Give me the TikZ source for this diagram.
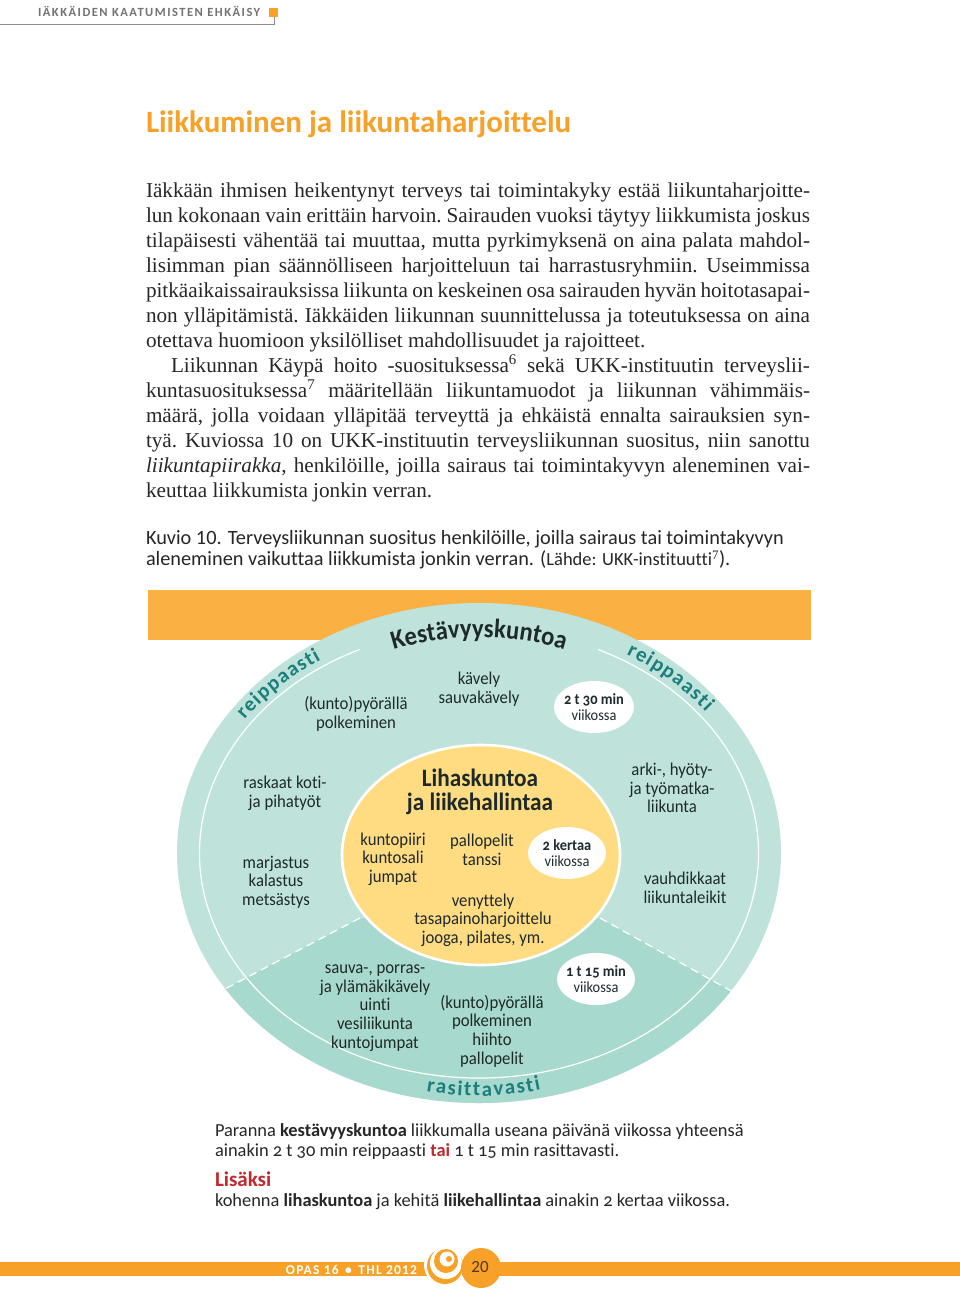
\documentclass[tikz,border=0pt]{standalone}
\usepackage{fontspec}
\usepackage{xcolor}
\usetikzlibrary{calc, decorations.text}
\setmainfont{Liberation Serif}
\newfontfamily\figfont[Numbers=OldStyle,Ligatures=NoCommon]{Carlito}
\newfontfamily\narrowfont[Numbers=OldStyle,Ligatures=NoCommon,FakeStretch=0.93]{Carlito}
\definecolor{bandorange}{HTML}{FBB042}
\definecolor{footorange}{HTML}{F7A128}
\definecolor{ringgreen}{HTML}{BFE3DB}
\definecolor{wedgegreen}{HTML}{A8D9CE}
\definecolor{coreyellow}{HTML}{FFDC82}
\definecolor{wordteal}{HTML}{1C7F7C}
\definecolor{inkdark}{HTML}{1E2A2A}
\definecolor{notered}{HTML}{C1272D}

\begin{document}
\begin{tikzpicture}[
    x=1pt, y=-1pt,
    every node/.style={inner sep=0pt, outer sep=0pt},
    activity/.style={align=center, text=inkdark, font=\narrowfont\fontsize{18}{18.6}\selectfont},
    dose/.style={align=center, text=inkdark, font=\narrowfont\fontsize{15.5}{16.5}\selectfont},
    dosebg/.style={fill=white},
    ringline/.style={draw=white, line width=1.2pt},
    sidenote/.style={anchor=base west, font=\figfont\fontsize{18.4}{20}\selectfont, text=black!85}
  ]
  \useasboundingbox (0,0) rectangle (960,1294);
  \fill[white] (0,0) rectangle (960,1294);

  % page head
  \node[anchor=base west, text=black!55, font=\figfont\bfseries\fontsize{12.5}{14}\selectfont\addfontfeatures{LetterSpace=12}] (running) at (38,16) {IÄKKÄIDEN KAATUMISTEN EHKÄISY};
  \draw[black!45, line width=1pt] (0,24) -- (274,24) -- (274,14);
  \fill[footorange] (269,8) rectangle (278,17);

  \node[anchor=base west, text=footorange, font=\figfont\bfseries\fontsize{31}{34}\selectfont] (title) at (146,132) {Liikkuminen ja liikuntaharjoittelu};

  \node[anchor=north west, text width=664pt, align=justify, text=black!85, font=\fontsize{21.2}{25}\selectfont\frenchspacing] (bodytext) at (146,182.5) {%
    Iäkkään ihmisen heikentynyt terveys tai toimintakyky estää liikuntaharjoitte-\linebreak
    lun kokonaan vain erittäin harvoin. Sairauden vuoksi täytyy liikkumista joskus\linebreak
    tilapäisesti vähentää tai muuttaa, mutta pyrkimyksenä on aina palata mahdol-\linebreak
    lisimman pian säännölliseen harjoitteluun tai harrastusryhmiin. Useimmissa\linebreak
    pitkäaikaissairauksissa liikunta on keskeinen osa sairauden hyvän hoitotasapai-\linebreak
    non ylläpitämistä. Iäkkäiden liikunnan suunnittelussa ja toteutuksessa on aina\linebreak
    otettava huomioon yksilölliset mahdollisuudet ja rajoitteet.\par
    \hspace*{25pt}Liikunnan Käypä hoito -suosituksessa\textsuperscript{6} sekä UKK-instituutin terveyslii-\linebreak
    kuntasuosituksessa\textsuperscript{7} määritellään liikuntamuodot ja liikunnan vähimmäis-\linebreak
    määrä, jolla voidaan ylläpitää terveyttä ja ehkäistä ennalta sairauksien syn-\linebreak
    tyä. Kuviossa 10 on UKK-instituutin terveysliikunnan suositus, niin sanottu\linebreak
    \textit{liikuntapiirakka}, henkilöille, joilla sairaus tai toimintakyvyn aleneminen vai-\linebreak
    keuttaa liikkumista jonkin verran.};

  \node[anchor=north west, align=left, text=black!85, font=\figfont\fontsize{20.3}{21.5}\selectfont] (caption) at (146,530) {Kuvio {\addfontfeatures{Numbers=Lining}10}. Terveysliikunnan suositus henkilöille, joilla sairaus tai toimintakyvyn\\aleneminen vaikuttaa liikkumista jonkin verran. ({\fontsize{18.5}{20}\selectfont Lähde: UKK-instituutti$^{\mathrm{7}}$}).};

  % the pie
  \fill[bandorange] (148,590) rectangle (811,640);
  \coordinate (centre) at (479,853);
  \fill[ringgreen] (centre) ellipse [x radius=302, y radius=250];
  \coordinate (leftin) at (360,918);
  \coordinate (leftout) at (225,989);
  \coordinate (rightin) at (600,918);
  \coordinate (rightout) at (733,992);
  \begin{scope}
    \clip (centre) ellipse [x radius=302, y radius=250];
    \fill[wedgegreen] (leftin) -- (leftout) -- ++(-60,32) -- (170,1200) -- (790,1200) -- (790,1024) -- (rightout) -- (rightin) -- cycle;
  \end{scope}
  \draw[ringline] (centre) ++(244.8:279.5 and 225) arc[start angle=244.8, end angle=-64.8, x radius=279.5, y radius=225];
  \draw[ringline, dash pattern=on 8pt off 5pt] (leftin) -- (leftout);
  \draw[ringline, dash pattern=on 8pt off 5pt] (rightin) -- (rightout);
  \filldraw[fill=coreyellow, draw=white, line width=2.6pt] (481,855) ellipse [x radius=139, y radius=110];

  % words on the ring
  \path[decorate, decoration={text along path, text align=center,
      text={|\narrowfont\bfseries\fontsize{26.5}{28}\selectfont\color{inkdark}|Kestävyyskuntoa}}]
    (centre) ++(243:252 and 216) arc[start angle=243, end angle=297, x radius=252, y radius=216];
  \path[decorate, decoration={text along path, text align={fit to path},
      text={|\figfont\bfseries\fontsize{21}{22}\selectfont\color{wordteal}|reippaasti}}]
    (centre) ++(215:286 and 232) arc[start angle=215, end angle=236.5, x radius=286, y radius=232];
  \path[decorate, decoration={text along path, text align={fit to path},
      text={|\figfont\bfseries\fontsize{21}{22}\selectfont\color{wordteal}|reippaasti}}]
    (centre) ++(301:286 and 232) arc[start angle=301, end angle=322.5, x radius=286, y radius=232];
  \path[decorate, decoration={text along path, text align={fit to path},
      text={|\figfont\bfseries\fontsize{21}{22}\selectfont\color{wordteal}|rasittavasti}}]
    (centre) ++(101:276 and 243) arc[start angle=101, end angle=77, x radius=276, y radius=243];

  % white dose spots
  \fill[dosebg] (594,707) ellipse [x radius=40, y radius=26];
  \fill[dosebg] (567,853) ellipse [x radius=39, y radius=26];
  \fill[dosebg] (596,979) ellipse [x radius=39, y radius=26];
  \node[dose] (doseweek) at (594,707) {\textbf{2 t 30 min}\\viikossa};
  \node[dose] (dosemuscle) at (567,853) {\textbf{2 kertaa}\\viikossa};
  \node[dose] (dosehard) at (596,979) {\textbf{1 t 15 min}\\viikossa};

  \node[activity] (cycling) at (356,714) {(kunto)pyörällä\\polkeminen};
  \node[activity] (walking) at (479,689) {kävely\\sauvakävely};
  \node[activity] (housework) at (285,793) {raskaat koti-\\ja pihatyöt};
  \node[activity] (commuting) at (672,788) {arki-, hyöty-\\ja työmatka-\\liikunta};
  \node[activity] (outdoors) at (276,882) {marjastus\\kalastus\\metsästys};
  \node[activity] (games) at (685,888) {vauhdikkaat\\liikuntaleikit};
  \node[activity, font=\narrowfont\bfseries\fontsize{25}{24}\selectfont] (muscle) at (480,792) {Lihaskuntoa\\ja liikehallintaa};
  \node[activity] (gym) at (393,859) {kuntopiiri\\kuntosali\\jumpat};
  \node[activity] (dance) at (482,850) {pallopelit\\tanssi};
  \node[activity] (balance) at (483,920) {venyttely\\tasapainoharjoittelu\\jooga, pilates, ym.};
  \node[activity] (climbing) at (375,1008) {sauva-, porras-\\ja ylämäkikävely\\uinti\\vesiliikunta\\kuntojumpat};
  \node[activity] (skiing) at (492,1031) {(kunto)pyörällä\\polkeminen\\hiihto\\pallopelit};

  % advice below
  \node[sidenote] (advicea) at (215,1136) {Paranna \textbf{kestävyyskuntoa} liikkumalla useana päivänä viikossa yhteensä};
  \node[sidenote] (adviceb) at (215,1156) {ainakin 2 t 30 min reippaasti \textcolor{notered}{\textbf{tai}} 1 t 15 min rasittavasti.};
  \node[sidenote, text=notered, font=\figfont\bfseries\fontsize{21}{22}\selectfont] (more) at (215,1186) {Lisäksi};
  \node[sidenote] (advicec) at (215,1206) {kohenna \textbf{lihaskuntoa} ja kehitä \textbf{liikehallintaa} ainakin 2 kertaa viikossa.};

  % page foot
  \fill[footorange] (0,1262) rectangle (960,1276);
  \fill[white] (445,1265) circle (21);
  \fill[footorange] (445,1266) circle (18);
  \fill[white] (446,1263) circle (16);
  \fill[footorange] (446,1261) circle (12);
  \fill[white] (447,1259) circle (7.5);
  \fill[footorange] (449,1259) circle (3);
  \fill[footorange] (481,1268) circle (20);
  \node[anchor=base, text=white, font=\figfont\bfseries\fontsize{13.5}{14}\selectfont\addfontfeatures{LetterSpace=9,Numbers=Lining}] (guide) at (351.5,1274) {OPAS 16 \,•\, THL 2012};
  \node[text=black!65!footorange, font=\figfont\fontsize{17}{18}\selectfont\addfontfeatures{Numbers=Lining}] (pagenumber) at (480,1267) {20};
\end{tikzpicture}
\end{document}
